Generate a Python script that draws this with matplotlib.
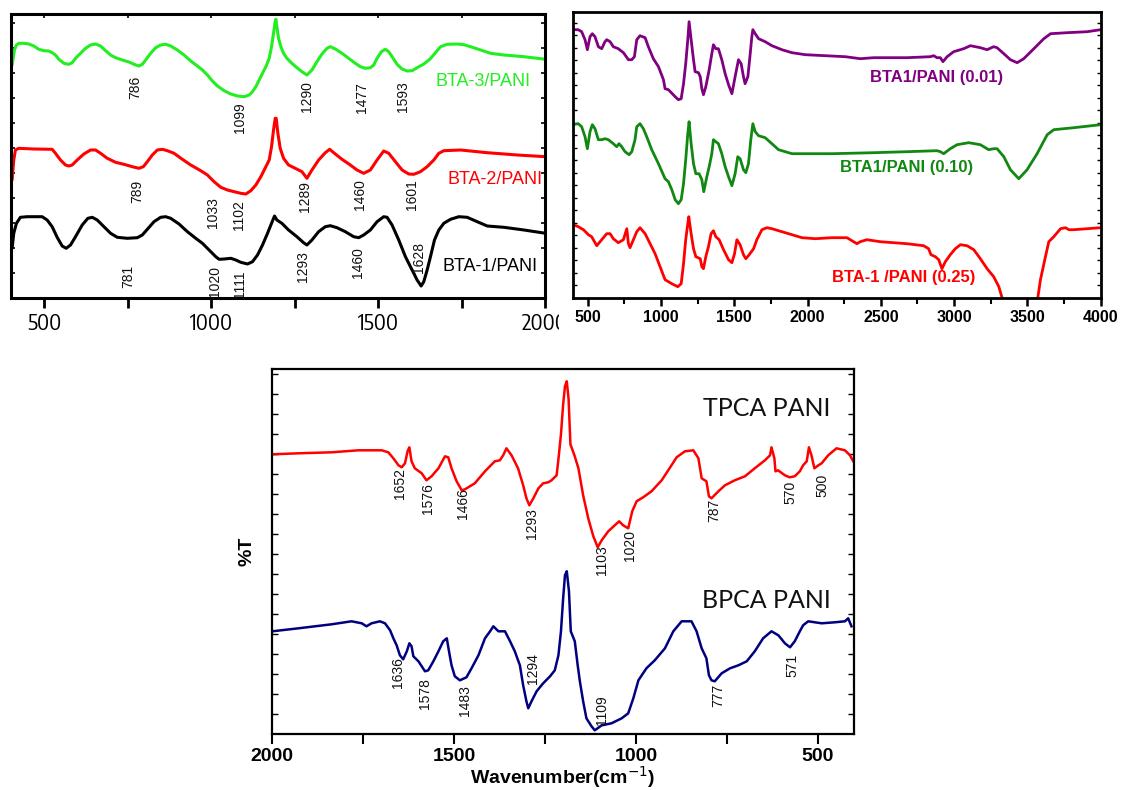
import numpy as np
import matplotlib
matplotlib.use("Agg")
import matplotlib.pyplot as plt
from matplotlib import font_manager
from matplotlib.transforms import Bbox

# ---------------- data (wavenumber, relative transmittance) ----------------
# Panel A (top-left), x increasing 400-2000
BTA3_PANI = [(404,232.7),(411,247.7),(417,252.7),(424,254.4),(439,254.4),(454,253.7),(469,251.7),(484,248.4),
             (499,247),(514,246.7),(524,245),(534,242.7),(544,238.4),(559,234.4),(574,233.4),(584,235),
             (594,239.4),(609,244.4),(624,249.4),(639,252.7),(654,253.7),(669,251.7),(684,247),(699,242.7),
             (714,240),(734,237.7),(754,235.7),(769,233.4),(784,231.7),(794,233.4),(804,237.7),(819,244.4),
             (834,250),(849,252.7),(864,253.4),(879,251.7),(899,247.7),(919,242.7),(939,236.7),(959,231.7),
             (974,227.7),(989,222.7),(1004,216.7),(1019,211.7),(1039,207),(1059,203.7),(1079,201.7),(1099,201),
             (1114,202.7),(1124,206),(1134,211),(1144,217.7),(1154,224.4),(1164,231),(1174,239.4),(1181,251),
             (1187,264.4),(1191,274.4),(1194,278.4),(1197,271),(1202,259.4),(1209,251),(1217,244.4),
             (1227,239.4),(1242,234.4),(1257,230),(1272,226),(1287,222.7),(1302,227.7),(1317,236),
             (1332,243.7),(1347,249.4),(1357,251),(1372,248.7),(1392,244.4),(1412,239.4),(1432,234.4),
             (1447,231),(1462,229.4),(1477,230),(1487,232.7),(1497,239.4),(1510,246),(1522,248.4),(1532,246),
             (1542,241),(1557,233.4),(1572,228.7),(1587,226.7),(1602,227),(1617,230),(1637,233.7),(1655,238.4),
             (1672,245),(1687,251),(1707,253.4),(1737,253.7),(1757,253),(1777,251),(1807,247.7),(1837,244.4),
             (1877,242.7),(1937,241),(2002,238.4)]
BTA2_PANI = [(404,117.7),(409,137.7),(414,147.7),(424,149.4),(469,148.7),(524,148.4),(534,144.4),(549,137.7),
             (564,132.7),(574,131.7),(584,132.7),(599,137.7),(619,143.7),(639,147.7),(654,147.7),(669,144.4),
             (689,139.4),(714,135.4),(739,133.4),(764,131),(784,129.4),(797,131),(809,136),(824,142.7),
             (839,147.7),(854,148.4),(869,147),(889,144.4),(914,138.4),(939,132.7),(969,127),(989,122.7),
             (1009,116),(1029,110.4),(1049,107.7),(1069,106),(1089,104.4),(1104,103.7),(1119,107),(1134,112.7),
             (1149,121),(1164,131),(1174,137.7),(1181,151),(1187,167.7),(1192,179.4),(1195,179.4),(1200,164.4),
             (1207,149.4),(1217,139.4),(1232,132.7),(1252,129.4),(1272,126),(1287,119.4),(1302,127.7),
             (1322,137.7),(1342,145),(1355,148.4),(1372,143.7),(1392,138.4),(1417,132.7),(1437,127.7),
             (1457,124.4),(1477,127.7),(1497,137.7),(1517,146.7),(1532,144.4),(1552,136),(1572,127.7),
             (1592,123.7),(1607,123.4),(1627,126),(1647,131),(1667,137.7),(1682,144.4),(1697,147),(1747,147.7),
             (1827,145),(1917,142.7),(2002,141)]
BTA1_PANI = [(404,49.4),(409,64.4),(417,74.4),(429,80.4),(449,81),(494,81),(509,77.7),(524,71),(539,60.4),
             (554,51.7),(566,49.4),(579,52.7),(594,61),(614,72.7),(631,79.4),(644,80.4),(659,77.7),(679,71),
             (699,64.4),(719,60.4),(749,59.4),(779,60),(794,62.7),(809,68.4),(829,76),(849,80.4),(864,81),
             (879,79.4),(904,73.7),(929,66),(954,59.4),(974,54.4),(994,47.7),(1014,41),(1024,38.4),(1039,38.7),
             (1059,39.4),(1074,37.7),(1089,35.4),(1109,33.7),(1124,36),(1139,42.7),(1154,52.7),(1169,64.4),
             (1181,74.4),(1190,81.7),(1197,77.7),(1212,74.4),(1232,67.7),(1257,61),(1277,55),(1287,52.7),
             (1302,57.7),(1322,66),(1342,71),(1357,72),(1377,70),(1402,66),(1427,61),(1442,60),(1457,62.7),
             (1477,67.7),(1497,76),(1517,81),(1527,80.4),(1542,72.7),(1562,57.7),(1582,41),(1602,27.7),
             (1617,17.7),(1629,11.7),(1637,16),(1647,27.7),(1657,41),(1669,57.7),(1682,67.7),(1697,74.4),
             (1717,78.4),(1742,81),(1767,80.4),(1797,76),(1827,71.7),(1877,70.4),(1937,67.7),(2002,64.4)]
panelA_peaks = [("786",773,210),("1099",1088,180),("1290",1288,201),("1477",1453,200),("1593",1576,201),
                ("789",779,106),("1033",1007,85),("1102",1085,83),("1289",1282,101),("1460",1447,103),
                ("1601",1603,103),("781",752,21),("1020",1013,16),("1111",1088,13),("1293",1276,31),
                ("1460",1441,35),("1628",1624,40)]
panelA_names = ["BTA-3/PANI", "BTA-2/PANI", "BTA-1/PANI"]
panelA_ticks = [500, 1000, 1500, 2000]

# Panel B (top-right), x increasing 400-4000
BTA1_001 = [(395,268),(436,268),(459,266),(482,258),(498,248),(516,261),(532,264),(550,261),(573,251),
            (596,249),(618,256),(630,258),(653,256),(675,251),(709,249),(744,245),(778,238),(801,238),
            (819,241),(835,258),(857,262),(892,260),(914,251),(948,239),(983,231),(1017,218),(1028,209),
            (1051,208),(1097,201),(1119,198),(1138,199),(1154,214),(1169,234),(1183,258),(1192,276),
            (1206,258),(1222,238),(1233,226),(1256,225),(1268,221),(1279,209),(1290,203),(1306,211),
            (1329,228),(1347,244),(1358,253),(1374,249),(1392,249),(1415,238),(1438,224),(1461,213),
            (1484,204),(1506,221),(1529,238),(1547,234),(1563,221),(1574,214),(1593,221),(1609,244),
            (1620,261),(1627,268),(1643,264),(1666,259),(1711,256),(1757,252),(1825,248),(1894,245),
            (1985,243),(2121,242),(2258,241),(2360,239),(2451,240),(2678,240),(2838,241),(2861,242),
            (2883,240),(2906,240),(2924,236),(2952,241),(2997,246),(3065,249),(3111,252),(3179,250),
            (3225,248),(3270,251),(3293,250),(3339,244),(3384,238),(3430,235),(3475,239),(3544,249),
            (3612,259),(3658,264),(3771,265),(3908,266),(3999,268)]
BTA1_010 = [(395,173),(436,174),(459,171),(482,161),(498,149),(516,166),(532,173),(550,169),(573,158),
            (596,158),(618,159),(641,158),(675,154),(698,151),(714,154),(732,151),(755,146),(783,143),
            (801,146),(823,158),(835,171),(857,174),(880,169),(903,161),(937,148),(983,134),(1028,119),
            (1051,116),(1074,108),(1097,98),(1119,94),(1138,98),(1154,114),(1169,138),(1183,164),
            (1192,176),(1206,154),(1222,134),(1238,124),(1260,124),(1279,118),(1292,106),(1313,121),
            (1329,131),(1347,144),(1358,158),(1374,156),(1392,154),(1415,144),(1438,131),(1461,121),
            (1484,112),(1506,124),(1524,141),(1540,139),(1563,128),(1579,125),(1597,134),(1613,158),
            (1627,174),(1643,166),(1666,162),(1711,160),(1757,154),(1802,148),(1894,144),(1985,144),
            (2167,144),(2451,145),(2678,146),(2883,147),(2906,146),(2929,144),(2974,149),(3020,153),
            (3100,155),(3179,153),(3236,148),(3270,149),(3293,149),(3339,141),(3384,128),(3441,119),
            (3498,128),(3566,144),(3635,163),(3680,168),(3817,170),(3999,173)]
BTA1_025 = [(402,73),(436,71),(471,68),(505,63),(527,61),(562,52),(596,58),(630,64),(653,64),(675,59),
            (709,55),(744,58),(767,69),(778,54),(789,50),(812,58),(835,66),(857,70),(892,64),(926,54),
            (960,44),(994,31),(1028,18),(1074,14),(1115,11),(1138,14),(1154,34),(1169,58),(1183,74),
            (1190,81),(1206,64),(1222,49),(1238,41),(1268,39),(1279,31),(1290,29),(1306,41),(1324,51),
            (1342,64),(1358,67),(1374,61),(1397,58),(1427,48),(1461,38),(1484,35),(1502,44),(1518,58),
            (1540,53),(1563,43),(1579,39),(1602,43),(1632,49),(1654,58),(1689,68),(1723,70),(1757,69),
            (1825,66),(1894,63),(1962,60),(2053,59),(2167,60),(2269,60),(2314,56),(2337,54),(2360,56),
            (2405,58),(2496,56),(2678,54),(2792,52),(2826,49),(2842,43),(2872,41),(2895,38),(2917,29),
            (2940,36),(2974,43),(3008,49),(3043,53),(3088,52),(3134,48),(3179,39),(3225,29),(3270,21),
            (3305,11),(3327,0),(3380,-40),(3450,-70),(3530,-40),(3571,0),(3589,18),(3623,41),(3646,56),
            (3680,61),(3726,69),(3760,70),(3783,68),(3817,68),(3908,69),(3999,70)]
panelB_names = ["BTA1/PANI (0.01)", "BTA1/PANI (0.10)", "BTA-1 /PANI (0.25)"]
panelB_ticks = [500, 1000, 1500, 2000, 2500, 3000, 3500, 4000]

# Panel C (bottom), x decreasing 2000-400
TPCA_PANI = [(2000,280),(1928,281),(1837,282),(1763,284),(1699,284),(1681,282),(1667,276),(1653,269),
             (1644,267),(1635,271),(1628,283),(1623,287),(1617,273),(1608,266),(1589,261),(1576,254),
             (1562,258),(1543,266),(1525,278),(1516,277),(1507,266),(1493,253),(1479,244),(1470,245),
             (1443,251),(1415,263),(1388,273),(1374,274),(1365,279),(1356,286),(1342,279),(1324,266),
             (1310,249),(1301,236),(1293,229),(1282,236),(1268,246),(1255,251),(1241,252),(1232,254),
             (1218,259),(1213,275),(1206,300),(1200,330),(1195,348),(1190,353),(1185,335),(1180,290),
             (1169,279),(1158,266),(1145,239),(1131,216),(1117,198),(1105,187),(1094,194),(1076,203),
             (1058,209),(1046,213),(1035,209),(1021,206),(1010,223),(998,233),(980,237),(957,243),
             (929,254),(902,269),(888,277),(865,283),(842,284),(828,276),(819,256),(806,253),(799,238),
             (792,236),(773,243),(755,249),(728,254),(700,258),(673,266),(645,274),(631,279),(627,287),
             (619,276),(616,263),(609,264),(590,259),(577,257),(563,258),(549,263),(540,269),(530,273),
             (524,287),(517,279),(509,266),(498,269),(489,271),(471,279),(448,286),(425,284),(411,279),
             (402,273)]
BPCA_PANI = [(2000,103),(1928,106),(1837,110),(1782,113),(1754,111),(1741,108),(1727,111),(1704,113),
             (1690,111),(1676,104),(1667,96),(1658,89),(1649,79),(1640,75),(1630,83),(1623,91),(1617,88),
             (1612,78),(1598,73),(1589,68),(1580,63),(1571,64),(1557,73),(1543,83),(1530,93),(1520,96),
             (1514,83),(1507,69),(1498,58),(1484,54),(1466,57),(1452,66),(1433,79),(1415,96),(1401,103),
             (1392,108),(1378,103),(1360,103),(1346,93),(1333,83),(1319,69),(1310,49),(1301,33),(1296,26),
             (1287,33),(1273,43),(1255,51),(1236,58),(1223,64),(1213,79),(1206,103),(1200,136),(1195,159),
             (1190,163),(1184,143),(1179,103),(1168,93),(1160,69),(1154,53),(1145,33),(1136,16),(1122,8),
             (1113,4),(1094,9),(1067,11),(1039,16),(1021,21),(1007,36),(993,54),(971,66),(948,74),(920,86),
             (897,103),(874,113),(847,113),(833,103),(819,86),(806,76),(799,59),(792,54),(783,53),(764,61),
             (741,66),(718,69),(695,73),(673,83),(650,96),(627,103),(608,99),(590,91),(576,87),(563,93),
             (549,103),(540,109),(526,113),(489,111),(453,112),(425,113),(416,116),(407,108)]
panelC_peaks = [("1652",1649,251),("1576",1572,236),("1466",1476,231),("1293",1286,211),
                ("1103",1093,174),("1020",1016,189),("787",785,224),("570",576,242),("500",488,249),
                ("1636",1654,62),("1578",1580,41),("1483",1470,34),("1294",1283,66),("1109",1093,24),
                ("777",774,39),("571",568,69)]
panelC_names = ["TPCA PANI", "BPCA PANI"]
panelC_ticks = [2000, 1500, 1000, 500]

# ---------------- fonts ----------------
avail = sorted({f.name for f in font_manager.fontManager.ttflist})
ARIAL = "Liberation Sans"
narrow = [n for n in avail if ("Narrow" in n or "Condensed" in n) and "Sans" in n]
NARROW = narrow[0] if narrow else ARIAL
CAL = "Lato" if "Lato" in avail else "DejaVu Sans"

W, H = 1123, 790
fig = plt.figure(figsize=(W/100, H/100), dpi=100)

def rect(l, t, r, b):
    return [l/W, 1 - b/H, (r-l)/W, (b-t)/H]

def xy(data):
    a = np.array(data, dtype=float)
    return a[:, 0], a[:, 1]

# ---------------- Panel A ----------------
axA = fig.add_axes(rect(10.75, 14, 545, 297.7))
colsA = ["#22ee22", "#ff0000", "#000000"]
for d, c in zip([BTA3_PANI, BTA2_PANI, BTA1_PANI], colsA):
    x, y = xy(d)
    axA.plot(x, y, color=c, lw=2.2, solid_joinstyle="round", solid_capstyle="round")
axA.set_xlim(400, 2000)
axA.set_ylim(0, 283.7)
axA.set_xticks(panelA_ticks)
axA.set_xticks([750, 1250, 1750], minor=True)
axA.set_xticklabels([str(t) for t in panelA_ticks], fontsize=15 if NARROW == ARIAL else 16, family=NARROW)
axA.tick_params(axis="x", which="both", direction="out", length=7, width=2, pad=4)
axA.set_yticks(np.arange(25, 283, 25))
axA.tick_params(axis="y", direction="in", left=True, right=True, labelleft=False, length=3, width=1.2)
for s in axA.spines.values():
    s.set_linewidth(2.2)
secA = axA.secondary_xaxis("top")
secA.set_xticks([500, 750, 1000, 1250, 1500, 1750, 2000])
secA.tick_params(direction="in", length=3, width=1.2, labeltop=False)
secA.spines["top"].set_visible(False)
for lab, xv, yv in panelA_peaks:
    axA.text(xv, yv, lab, rotation=90, ha="center", va="center", fontsize=10, family=ARIAL, color="#111111")
for name, c, xv, yv in zip(panelA_names, colsA, [1672, 1707, 1692], [216, 118, 31]):
    axA.text(xv, yv, name, color=c, fontsize=13, family=ARIAL, ha="left", va="center", clip_on=True)
for t in axA.get_xticklabels():
    if t.get_text() == "2000":
        t.set_clip_on(True)
        t.set_clip_box(Bbox.from_extents(0, 0, 559, H))

# ---------------- Panel B ----------------
axB = fig.add_axes(rect(573, 11.7, 1100.7, 297.7))
colsB = ["#800080", "#118811", "#ff0000"]
for d, c in zip([BTA1_001, BTA1_010, BTA1_025], colsB):
    x, y = xy(d)
    axB.plot(x, y, color=c, lw=2.0, solid_joinstyle="round")
axB.set_xlim(400, 4000)
axB.set_ylim(0, 286)
axB.set_xticks(panelB_ticks)
axB.set_xticks(np.arange(750, 4000, 500), minor=True)
axB.set_xticklabels([str(t) for t in panelB_ticks], fontsize=11.5, family=ARIAL, fontweight="bold")
axB.tick_params(axis="x", which="major", direction="out", length=6, width=1.8, pad=3)
axB.tick_params(axis="x", which="minor", direction="out", length=4, width=1.5)
axB.set_yticks(np.arange(12.5, 286, 12.5))
axB.tick_params(axis="y", direction="in", left=True, right=True, labelleft=False, length=3, width=1)
for s in axB.spines.values():
    s.set_linewidth(2.0)
for name, c, xv, yv in zip(panelB_names, colsB, [2879, 2674, 2654], [220, 130, 20]):
    axB.text(xv, yv, name, color=c, fontsize=12, family=ARIAL, fontweight="bold", ha="center", va="center")

# ---------------- Panel C ----------------
axC = fig.add_axes(rect(272.3, 369, 854, 734.3))
colsC = ["#ff0000", "#000080"]
for d, c in zip([TPCA_PANI, BPCA_PANI], colsC):
    x, y = xy(d)
    axC.plot(x, y, color=c, lw=1.8, solid_joinstyle="round")
axC.set_xlim(2000, 400)
axC.set_ylim(0, 365.3)
axC.set_xticks(panelC_ticks)
axC.set_xticks([1750, 1250, 750], minor=True)
axC.set_xticklabels([str(t) for t in panelC_ticks], fontsize=14, family=ARIAL, fontweight="bold")
axC.tick_params(axis="x", which="both", direction="out", length=7, width=1.5, pad=3)
axC.set_yticks(np.arange(20, 365, 20))
axC.tick_params(axis="y", direction="in", left=True, right=True, labelleft=False, length=4, width=1)
for s in axC.spines.values():
    s.set_linewidth(1.6)
axC.set_xlabel("Wavenumber(cm$^{-1}$)", fontsize=14, family=ARIAL, fontweight="bold", labelpad=-1)
axC.set_ylabel("%T", fontsize=14, family=ARIAL, fontweight="bold", labelpad=12)
for lab, xv, yv in panelC_peaks:
    axC.text(xv, yv, lab, rotation=90, ha="center", va="center", fontsize=10, family=ARIAL, color="#111111")
for name, yv in zip(panelC_names, [326, 134]):
    axC.text(641, yv, name, fontsize=18, family=CAL, ha="center", va="center", color="#111111")

fig.savefig("out.png", dpi=100)
